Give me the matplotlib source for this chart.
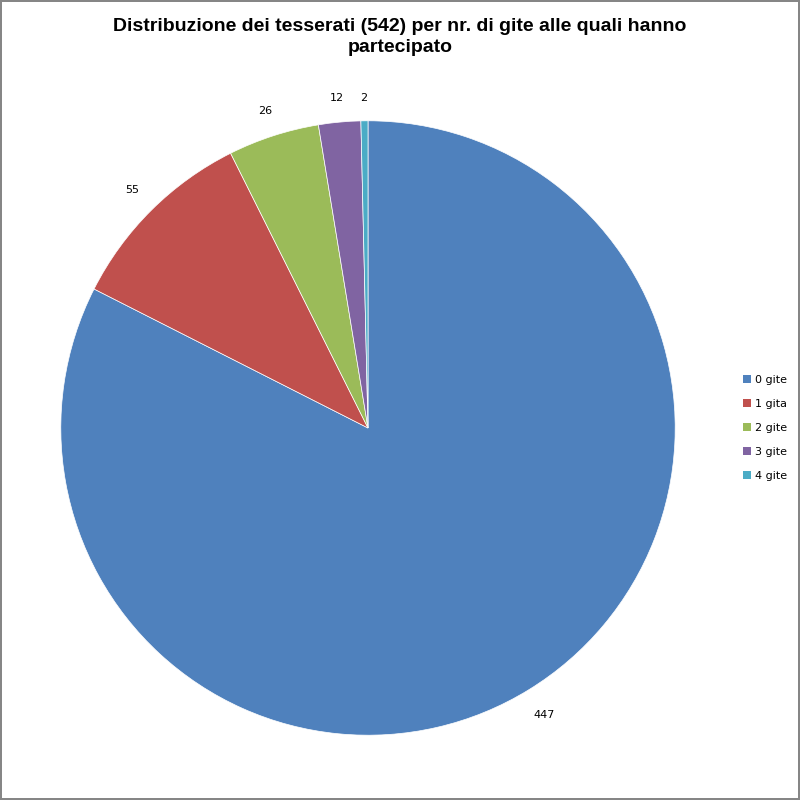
import numpy as np
import matplotlib.pyplot as plt
from matplotlib.patches import Patch

categories = ["0 gite", "1 gita", "2 gite", "3 gite", "4 gite"]
values = [447, 55, 26, 12, 2]
colors = ["#4F81BD", "#C0504D", "#9BBB59", "#8064A2", "#4BACC6"]

title = "Distribuzione dei tesserati (542) per nr. di gite alle quali hanno\npartecipato"

fig = plt.figure(figsize=(8, 8), dpi=100)
fig.patch.set_edgecolor("#868686")
fig.patch.set_linewidth(1.5)

ax = fig.add_axes([0.076, 0.081, 0.768, 0.768])
wedges, texts = ax.pie(values, colors=colors, startangle=90, counterclock=False,
                       labels=[str(v) for v in values], labeldistance=1.1,
                       wedgeprops=dict(edgecolor="white", linewidth=0.5),
                       textprops=dict(fontsize=8, family="DejaVu Sans"))

# put labels just outside the edge, like Excel's "outside end"
r_px = 307.0
for w, t in zip(wedges, texts):
    theta = np.deg2rad((w.theta1 + w.theta2) / 2)
    hw = 4.5 * len(t.get_text())
    hh = 5.0
    d = (r_px + 18 + hw * abs(np.cos(theta)) + hh * abs(np.sin(theta))) / r_px
    t.set_position((d * np.cos(theta), d * np.sin(theta)))
    t.set_ha("center")
    t.set_va("center")
ax.set_xlim(-1, 1)
ax.set_ylim(-1, 1)
ax.set_aspect("equal")

fig.text(0.5, 0.978, title, ha="center", va="top", fontsize=14,
         fontweight="bold", family="Liberation Sans", linespacing=1.3)

handles = [Patch(facecolor=c, edgecolor="none", label=l) for c, l in zip(colors, categories)]
fig.legend(handles=handles, loc="center left", bbox_to_anchor=(0.922, 0.465),
           frameon=False, fontsize=8, handlelength=0.7, handleheight=0.7,
           handletextpad=0.4, labelspacing=1.25, borderpad=0)

fig.savefig("out.png", dpi=100, edgecolor=fig.get_edgecolor())
